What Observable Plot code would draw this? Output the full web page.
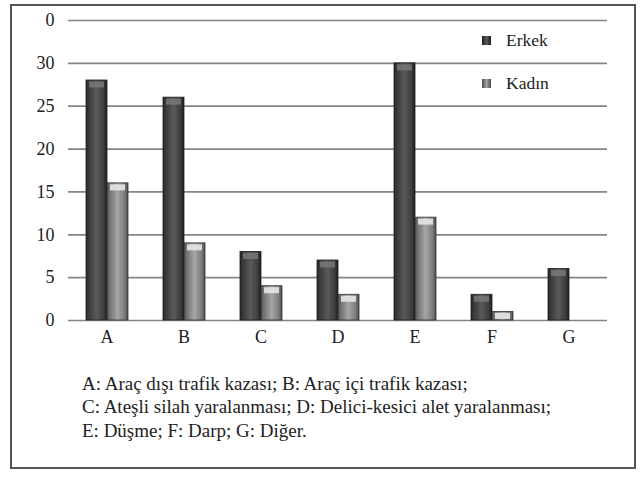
<!DOCTYPE html>
<html><head><meta charset="utf-8">
<script src="https://cdn.jsdelivr.net/npm/d3@7"></script>
<script src="https://cdn.jsdelivr.net/npm/@observablehq/plot@0.6"></script>
<style>
html,body{margin:0;padding:0;background:#fff;font-family:"Liberation Serif","DejaVu Serif",serif;color:#222;}
#wrap{position:relative;width:644px;height:479px;overflow:hidden;background:#fff;}
#box{position:absolute;left:10px;top:4px;width:626px;height:465px;border:2px solid #555;box-sizing:border-box;z-index:5;pointer-events:none;}
#chart{position:absolute;left:0;top:0;}
.leg{position:absolute;font-size:17.5px;line-height:18px;}
.sw{position:absolute;width:9px;height:9px;}
#cap{position:absolute;left:82px;top:372px;font-size:19px;line-height:23.3px;white-space:nowrap;}
</style></head>
<body>
<div id="wrap">
  <div id="chart"></div>
  <div id="legend"></div>
  <div id="cap"></div>
  <div id="box"></div>
</div>
<script>
const categories = ["A","B","C","D","E","F","G"];
const seriesNames = ["Erkek","Kadın"];
const erkek = [28, 26, 8, 7, 30, 3, 6];
const kadin = [16, 9, 4, 3, 12, 1, 0];
const yTickValues = [0,5,10,15,20,25,30,35];
const yTickLabels = ["0","5","10","15","20","25","30","0"];
const captionLines = [
  "A: Araç dışı trafik kazası; B: Araç içi trafik kazası;",
  "C: Ateşli silah yaralanması; D: Delici-kesici alet yaralanması;",
  "E: Düşme; F: Darp; G: Diğer."
];

const rows = [];
categories.forEach((c,i)=>{
  rows.push({cat:c, sex:seriesNames[0], v:erkek[i]});
  rows.push({cat:c, sex:seriesNames[1], v:kadin[i]});
});
const rowsE = rows.filter(d=>d.sex===seriesNames[0]);
const rowsK = rows.filter(d=>d.sex===seriesNames[1] && d.v>0);

const chart = Plot.plot({
  width:644, height:360,
  marginLeft:65, marginRight:35, marginTop:20, marginBottom:40,
  style:{fontFamily:"'Liberation Serif','DejaVu Serif',serif", fontSize:"18px", color:"#222", background:"transparent", overflow:"visible"},
  fx:{domain:categories, padding:0, label:null, tickSize:0, tickPadding:10, axis:"bottom"},
  x:{domain:seriesNames, paddingInner:0, paddingOuter:0.77, axis:null},
  y:{domain:[0,35], ticks:yTickValues, tickFormat:d=>yTickLabels[yTickValues.indexOf(d)], tickSize:0, tickPadding:14, label:null},
  marks:[
    Plot.ruleY(yTickValues, {stroke:"#858585", strokeWidth:1.7}),
    Plot.ruleX([categories[0]], {fx:d=>d, frameAnchor:"left", y1:0, y2:35, stroke:"#858585", strokeWidth:1.7}),
    Plot.barY(rowsE, {fx:"cat", x:"sex", y:"v", fill:"url(#gE)", stroke:"#1e1e1e", strokeWidth:0.8}),
    Plot.barY(rowsK, {fx:"cat", x:"sex", y:"v", fill:"url(#gK)", stroke:"#333", strokeWidth:0.8}),
    Plot.tickY(rowsE, {fx:"cat", x:"sex", y:"v", stroke:"#7a7a7a", strokeWidth:6, dy:4, inset:3, strokeOpacity:0.8}),
    Plot.tickY(rowsK, {fx:"cat", x:"sex", y:"v", stroke:"#e6e6e6", strokeWidth:6, dy:4, inset:3, strokeOpacity:0.9})
  ]
});

const defs = d3.select(chart).insert("defs", ":first-child");
function grad(id, stops){
  const g = defs.append("linearGradient").attr("id", id).attr("x1","0").attr("x2","1").attr("y1","0").attr("y2","0");
  stops.forEach(([o,c])=>g.append("stop").attr("offset",o).attr("stop-color",c));
}
grad("gE", [[0,"#262626"],[0.12,"#383838"],[0.5,"#5a5a5a"],[0.85,"#3c3c3c"],[1,"#1c1c1c"]]);
grad("gK", [[0,"#4e4e4e"],[0.12,"#707070"],[0.5,"#a6a6a6"],[0.85,"#7a7a7a"],[1,"#4a4a4a"]]);
document.getElementById("chart").appendChild(chart);

// legend
const leg = document.getElementById("legend");
const legendColors = ["linear-gradient(90deg,#1c1c1c,#5a5a5a,#1c1c1c)","linear-gradient(90deg,#4a4a4a,#a6a6a6,#4a4a4a)"];
const legendTops = [36, 79];
seriesNames.forEach((s,i)=>{
  const sw = document.createElement("div");
  sw.className="sw"; sw.style.left="482px"; sw.style.top=legendTops[i]+"px"; sw.style.background=legendColors[i];
  leg.appendChild(sw);
  const t = document.createElement("div");
  t.className="leg"; t.style.left="506px"; t.style.top=(legendTops[i]-5)+"px"; t.textContent=s;
  leg.appendChild(t);
});

// caption
const cap = document.getElementById("cap");
captionLines.forEach(l=>{const d=document.createElement("div"); d.textContent=l; cap.appendChild(d);});
</script>
</body></html>
